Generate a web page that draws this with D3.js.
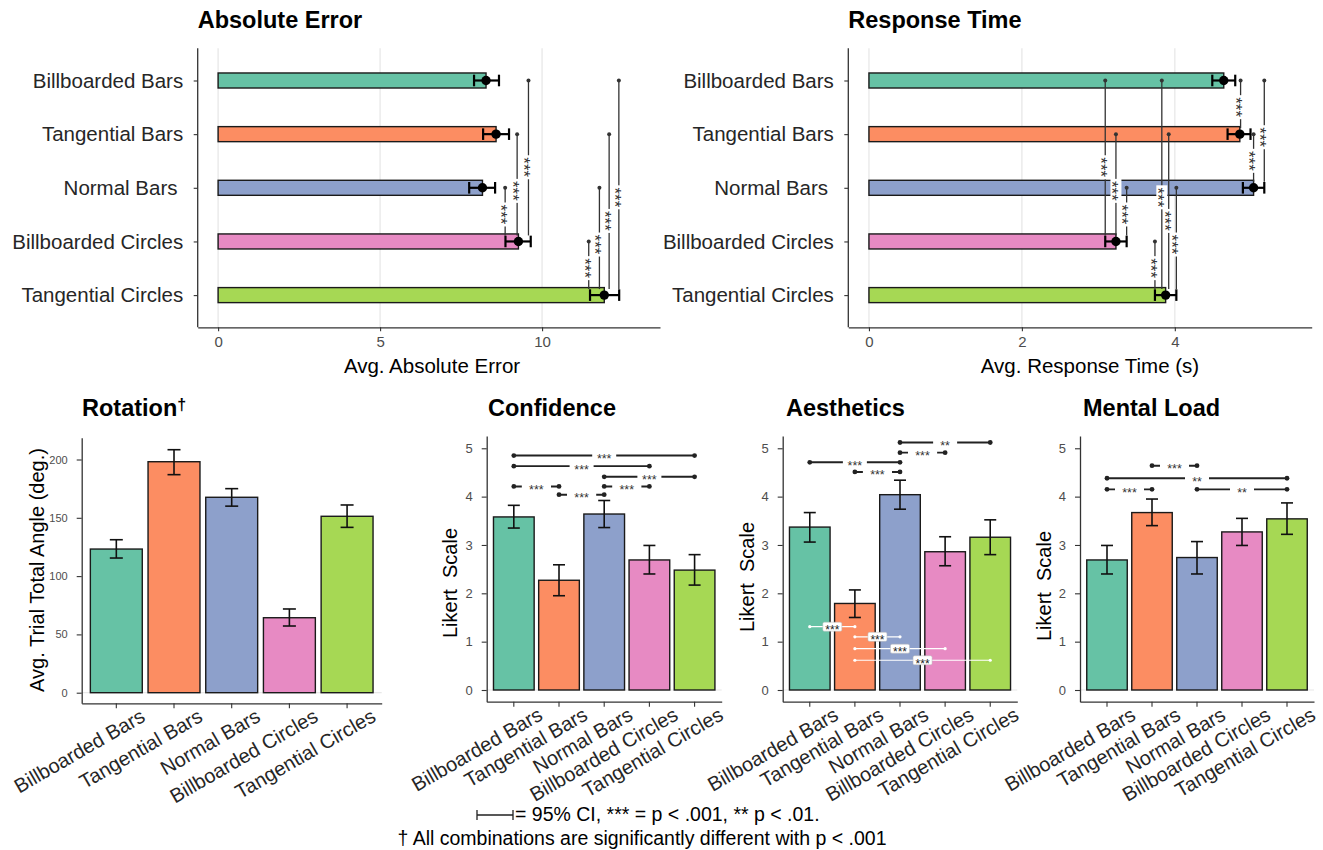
<!DOCTYPE html>
<html>
<head>
<meta charset="utf-8">
<script src="https://d3js.org/d3.v7.min.js"></script>
<style>
  body { margin: 0; background: #fff; }
  svg { font-family: "Liberation Sans", Arial, sans-serif; }
</style>
</head>
<body>
<svg id="fig" width="1323" height="850"></svg>
<script>
  // ---- data ----
  const categories = ["Billboarded Bars", "Tangential Bars", "Normal Bars", "Billboarded Circles", "Tangential Circles"];
  const topLabels = ["Billboarded Bars", "Tangential Bars", "Normal Bars ", "Billboarded Circles", "Tangential Circles"];
  const colors = ["#66c2a5", "#fc8d62", "#8da0cb", "#e78ac3", "#a6d854"];

  const absErrMean = [8.27, 8.58, 8.16, 9.27, 11.92];
  const absErrLo = [7.90, 8.18, 7.75, 8.87, 11.48];
  const absErrHi = [8.67, 8.98, 8.55, 9.65, 12.38];
  const absErrTicks = [0, 5, 10];
  // [upper category, lower category, x position, label]
  const absErrSig = [[2, 3, 8.86, "***"], [1, 3, 9.23, "***"], [0, 3, 9.58, "***"],
    [3, 4, 11.44, "***"], [2, 4, 11.77, "***"], [1, 4, 12.07, "***"], [0, 4, 12.37, "***"]];

  const rtMean = [4.64, 4.85, 5.03, 3.23, 3.88];
  const rtLo = [4.49, 4.69, 4.89, 3.09, 3.74];
  const rtHi = [4.79, 4.99, 5.17, 3.37, 4.02];
  const rtTicks = [0, 2, 4];
  const rtSig = [[0, 3, 3.09, "***"], [1, 3, 3.23, "***"], [2, 3, 3.37, "***"],
    [3, 4, 3.74, "***"], [0, 4, 3.83, "***"], [1, 4, 3.92, "***"], [2, 4, 4.02, "***"],
    [0, 1, 4.86, "***"], [1, 2, 5.03, "***"], [0, 2, 5.17, "***"]];

  const rotMean = [123.2, 198.1, 167.6, 64.3, 151.3];
  const rotLo = [115.5, 187.0, 160.0, 57.2, 141.8];
  const rotHi = [131.2, 208.4, 175.0, 71.8, 161.0];
  const rotTicks = [0, 50, 100, 150, 200];

  const likertTicks = [0, 1, 2, 3, 4, 5];

  const confMean = [3.58, 2.27, 3.64, 2.69, 2.48];
  const confLo = [3.35, 1.95, 3.36, 2.40, 2.17];
  const confHi = [3.82, 2.59, 3.92, 2.99, 2.80];
  // [from category, to category, y value, label]
  const confSig = [[0, 4, 4.85, "***"], [0, 3, 4.63, "***"], [2, 4, 4.41, "***"],
    [0, 1, 4.21, "***"], [2, 3, 4.21, "***"], [1, 2, 4.04, "***"]];

  const aestMean = [3.37, 1.79, 4.04, 2.86, 3.16];
  const aestLo = [3.06, 1.50, 3.74, 2.57, 2.80];
  const aestHi = [3.67, 2.07, 4.34, 3.17, 3.52];
  const aestSig = [[2, 4, 5.12, "**"], [2, 3, 4.91, "***"], [0, 2, 4.71, "***"], [1, 2, 4.51, "***"]];
  const aestSigInner = [[0, 1, 1.31, "***"], [1, 2, 1.10, "***"], [1, 3, 0.855, "***"], [1, 4, 0.615, "***"]];

  const mentMean = [2.69, 3.67, 2.74, 3.27, 3.54];
  const mentLo = [2.40, 3.40, 2.40, 2.99, 3.22];
  const mentHi = [2.99, 3.95, 3.07, 3.55, 3.87];
  const mentSig = [[1, 2, 4.64, "***"], [0, 4, 4.38, "**"], [0, 1, 4.15, "***"], [2, 4, 4.15, "**"]];

  const svg = d3.select("#fig");
  const idx = d3.range(categories.length);

  function styleAxis(ax, textSize, textColor) {
    ax.attr("font-family", null).attr("font-size", null);
    ax.select(".domain").attr("stroke", "#333").attr("stroke-width", 1.3);
    ax.selectAll(".tick line").attr("stroke", "#333").attr("stroke-width", 1.1);
    ax.selectAll(".tick text").style("font-size", textSize + "px").attr("fill", textColor);
  }

  // ---- horizontal bar panels (top row) ----
  function hPanel(p) {
    const x = d3.scaleLinear().domain(p.domain).range([p.left, p.right]);
    const y = d3.scalePoint().domain(idx).range([p.top, p.bottom]).padding(0.6);
    const bh = y.step() * 0.28;
    const g = svg.append("g");

    g.append("g").selectAll("line").data(p.ticks).join("line")
      .attr("x1", d => x(d)).attr("x2", d => x(d))
      .attr("y1", p.top).attr("y2", p.bottom)
      .attr("stroke", "#ebebeb").attr("stroke-width", 1.5);

    g.selectAll("rect.bar").data(idx).join("rect")
      .attr("class", "bar")
      .attr("x", x(0)).attr("y", i => y(i) - bh / 2)
      .attr("width", i => x(p.mean[i]) - x(0)).attr("height", bh)
      .attr("fill", i => colors[i]).attr("stroke", "#1a1a1a").attr("stroke-width", 1.4);

    // significance lines
    p.sig.forEach(([a, b, v, lab]) => {
      const ya = y(a), yb = y(b) - 6, xx = x(v);
      g.append("line").attr("x1", xx).attr("x2", xx).attr("y1", ya).attr("y2", yb)
        .attr("stroke", "#333").attr("stroke-width", 1.3);
      g.append("circle").attr("cx", xx).attr("cy", ya).attr("r", 2).attr("fill", "#333");
      const ym = ya + 0.56 * (yb - ya);
      g.append("rect").attr("x", xx - 5.5).attr("y", ym - 12).attr("width", 11).attr("height", 24)
        .attr("fill", "#fff");
      g.append("text").attr("transform", `translate(${xx},${ym}) rotate(90)`)
        .attr("text-anchor", "middle").attr("dy", "0.6em")
        .style("font-size", "17px").attr("fill", "#333").text(lab);
    });

    // error bars + points
    idx.forEach(i => {
      const cy = y(i);
      g.append("line").attr("x1", x(p.lo[i])).attr("x2", x(p.hi[i])).attr("y1", cy).attr("y2", cy)
        .attr("stroke", "#000").attr("stroke-width", 2.2);
      [p.lo[i], p.hi[i]].forEach(v => {
        g.append("line").attr("x1", x(v)).attr("x2", x(v)).attr("y1", cy - 5.8).attr("y2", cy + 5.8)
          .attr("stroke", "#000").attr("stroke-width", 2.2);
      });
      g.append("circle").attr("cx", x(p.mean[i])).attr("cy", cy).attr("r", 4.7).attr("fill", "#000");
    });

    const xa = g.append("g").attr("transform", `translate(0,${p.bottom})`)
      .call(d3.axisBottom(x).tickValues(p.ticks).tickFormat(d => d).tickSize(4).tickPadding(5).tickSizeOuter(0));
    styleAxis(xa, 15, "#4d4d4d");

    const ya = g.append("g").attr("transform", `translate(${p.left},0)`)
      .call(d3.axisLeft(y).tickSize(4).tickPadding(10.5).tickSizeOuter(0).tickFormat(i => topLabels[i]));
    ya.select(".domain").attr("d", `M0,${p.top}V${p.bottom}`);
    styleAxis(ya, 20.5, "#262626");
    ya.selectAll(".tick text").style("white-space", "pre");

    g.append("text").attr("x", p.left).attr("y", 28)
      .style("font-size", "23.5px").style("font-weight", "bold").attr("fill", "#000").text(p.title);
    g.append("text").attr("x", p.xTitleX).attr("y", 373).attr("text-anchor", "middle")
      .style("font-size", "20.5px").attr("fill", "#000").text(p.xTitle);
  }

  hPanel({ left: 197.7, right: 660, top: 48.3, bottom: 327.3, domain: [-0.63, 13.64], ticks: absErrTicks,
    mean: absErrMean, lo: absErrLo, hi: absErrHi, sig: absErrSig,
    title: "Absolute Error", xTitle: "Avg. Absolute Error", xTitleX: 432 });
  hPanel({ left: 848.3, right: 1311.7, top: 48.3, bottom: 327.3, domain: [-0.27, 5.79], ticks: rtTicks,
    mean: rtMean, lo: rtLo, hi: rtHi, sig: rtSig,
    title: "Response Time", xTitle: "Avg. Response Time (s)", xTitleX: 1090 });

  // ---- vertical bar panels (bottom row) ----
  function vPanel(p) {
    const x = d3.scaleBand().domain(idx).range([p.left, p.right]).paddingInner(0.1).paddingOuter(0.15);
    const xc = i => x(i) + x.bandwidth() / 2;
    const y = d3.scaleLinear().domain(p.domain).range([p.bottom, p.top]);
    const g = svg.append("g");

    g.append("line").attr("x1", p.left).attr("x2", p.right).attr("y1", y(0)).attr("y2", y(0))
      .attr("stroke", "#e8e8e8").attr("stroke-width", 1.2);

    g.selectAll("rect.bar").data(idx).join("rect")
      .attr("class", "bar")
      .attr("x", i => x(i)).attr("y", i => y(p.mean[i]))
      .attr("width", x.bandwidth()).attr("height", i => y(0) - y(p.mean[i]))
      .attr("fill", i => colors[i]).attr("stroke", "#1a1a1a").attr("stroke-width", 1.4);

    const cap = p.cap;
    idx.forEach(i => {
      const cx = xc(i);
      g.append("line").attr("x1", cx).attr("x2", cx).attr("y1", y(p.lo[i])).attr("y2", y(p.hi[i]))
        .attr("stroke", "#111").attr("stroke-width", 1.6);
      [p.lo[i], p.hi[i]].forEach(v => {
        g.append("line").attr("x1", cx - cap / 2).attr("x2", cx + cap / 2).attr("y1", y(v)).attr("y2", y(v))
          .attr("stroke", "#111").attr("stroke-width", 1.6);
      });
    });

    (p.sig || []).forEach(([a, b, v, lab]) => {
      const x1 = xc(a), x2 = xc(b), yy = y(v), mid = (x1 + x2) / 2;
      const len = x2 - x1;
      const gap = len < 60 ? len - 16 : 24;
      g.append("line").attr("x1", x1).attr("x2", x2).attr("y1", yy).attr("y2", yy)
        .attr("stroke", "#222").attr("stroke-width", 1.9);
      [x1, x2].forEach(cx => g.append("circle").attr("cx", cx).attr("cy", yy).attr("r", 2.4).attr("fill", "#222"));
      g.append("rect").attr("x", mid - gap / 2).attr("y", yy - 5).attr("width", gap).attr("height", 10)
        .attr("fill", "#fff");
      g.append("text").attr("x", mid).attr("y", yy).attr("dy", "0.6em").attr("text-anchor", "middle")
        .style("font-size", "12.5px").attr("fill", "#333").text(lab);
    });

    (p.sigInner || []).forEach(([a, b, v, lab]) => {
      const x1 = xc(a), x2 = xc(b), yy = y(v), mid = (x1 + x2) / 2;
      g.append("line").attr("x1", x1).attr("x2", x2).attr("y1", yy).attr("y2", yy)
        .attr("stroke", "#fff").attr("stroke-width", 1.2);
      [x1, x2].forEach(cx => g.append("circle").attr("cx", cx).attr("cy", yy).attr("r", 1.6).attr("fill", "#fff"));
      g.append("rect").attr("x", mid - 9.5).attr("y", yy - 4.5).attr("width", 19).attr("height", 9)
        .attr("rx", 1.5).attr("fill", "#fff").attr("stroke", "#bbb").attr("stroke-width", 0.5);
      g.append("text").attr("x", mid).attr("y", yy).attr("dy", "0.62em").attr("text-anchor", "middle")
        .style("font-size", "12px").attr("fill", "#222").text(lab);
    });

    const xa = g.append("g").attr("transform", `translate(0,${p.bottom})`)
      .call(d3.axisBottom(x).tickSize(5).tickSizeOuter(0).tickFormat(i => categories[i]));
    styleAxis(xa, 20, "#262626");
    xa.selectAll(".tick text")
      .attr("x", null).attr("y", null).attr("dy", null)
      .attr("text-anchor", "end")
      .attr("transform", "translate(30,17) rotate(-30)");

    const ya = g.append("g").attr("transform", `translate(${p.left},0)`)
      .call(d3.axisLeft(y).tickValues(p.ticks).tickFormat(d => d).tickSize(5).tickPadding(9).tickSizeOuter(0));
    styleAxis(ya, p.tickSize, "#4d4d4d");

    const t = g.append("text").attr("x", p.titleX).attr("y", 416)
      .style("font-size", "23.5px").style("font-weight", "bold").attr("fill", "#000").text(p.title);
    if (p.dagger) t.append("tspan").attr("dy", -6).style("font-size", "16px").text("\u2020");

    g.append("text").attr("transform", `translate(${p.yTitleX},${p.yTitleY}) rotate(-90)`)
      .attr("text-anchor", "middle").style("font-size", "20px").style("white-space", "pre")
      .attr("fill", "#000").text(p.yTitle);
  }

  vPanel({ left: 81.7, right: 381.7, top: 437.7, bottom: 703.3, domain: [-9.09, 218.7], ticks: rotTicks,
    mean: rotMean, lo: rotLo, hi: rotHi, cap: 13, tickSize: 11,
    title: "Rotation", dagger: true, titleX: 82,
    yTitle: "Avg. Trial Total Angle (deg.)", yTitleX: 44, yTitleY: 570 });
  vPanel({ left: 486.7, right: 721.7, top: 436, bottom: 701.7, domain: [-0.242, 5.254], ticks: likertTicks,
    mean: confMean, lo: confLo, hi: confHi, sig: confSig, cap: 12, tickSize: 13,
    title: "Confidence", titleX: 488,
    yTitle: "Likert  Scale", yTitleX: 456.5, yTitleY: 583 });
  vPanel({ left: 782.7, right: 1017.3, top: 436, bottom: 701.7, domain: [-0.242, 5.254], ticks: likertTicks,
    mean: aestMean, lo: aestLo, hi: aestHi, sig: aestSig, sigInner: aestSigInner, cap: 12, tickSize: 13,
    title: "Aesthetics", titleX: 786,
    yTitle: "Likert  Scale", yTitleX: 753.5, yTitleY: 577 });
  vPanel({ left: 1080, right: 1314, top: 436, bottom: 701.7, domain: [-0.242, 5.254], ticks: likertTicks,
    mean: mentMean, lo: mentLo, hi: mentHi, sig: mentSig, cap: 12, tickSize: 13,
    title: "Mental Load", titleX: 1083,
    yTitle: "Likert  Scale", yTitleX: 1051, yTitleY: 586 });

  // ---- caption ----
  const cap = svg.append("g");
  cap.append("path").attr("d", "M477,810V820M477,815H513M513,810V820")
    .attr("stroke", "#222").attr("stroke-width", 1.3).attr("fill", "none");
  cap.append("text").attr("x", 515).attr("y", 821).style("font-size", "19.5px").attr("fill", "#000")
    .text("= 95% CI, *** = p < .001, ** p < .01.");
  cap.append("text").attr("x", 642).attr("y", 845).attr("text-anchor", "middle")
    .style("font-size", "19.5px").attr("fill", "#000")
    .text("\u2020 All combinations are significantly different with p < .001");
</script>
</body>
</html>
